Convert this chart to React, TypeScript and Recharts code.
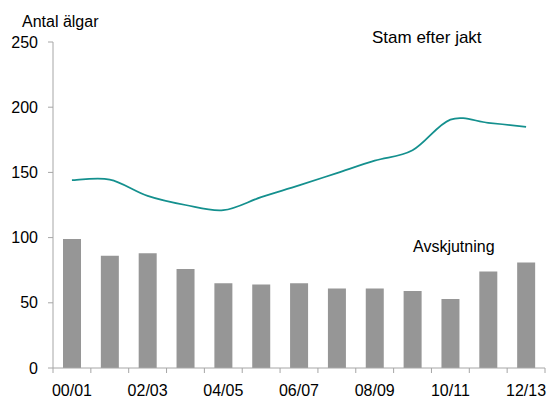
import React from 'react';
import { ComposedChart, Bar, Line, XAxis, YAxis } from 'recharts';

const seasons = ['00/01', '01/02', '02/03', '03/04', '04/05', '05/06', '06/07', '07/08', '08/09', '09/10', '10/11', '11/12', '12/13'];
const avskjutning = [99, 86, 88, 76, 65, 64, 65, 61, 61, 59, 53, 74, 81];
const stamEfterJakt = [144, 144.5, 132, 125, 121, 131, 140, 149.5, 159, 167, 190.5, 188, 185];
const yTicks = [0, 50, 100, 150, 200, 250];

const data = seasons.map((s, i) => ({ season: s, avskjutning: avskjutning[i], stam: stamEfterJakt[i] }));

const FONT = 'Liberation Sans, Arial, sans-serif';
const AXIS = '#a6a6a6';

// Excel-like smoothed line (Catmull-Rom style Bezier)
function excelCurve(context: any) {
  let pts: number[][] = [];
  return {
    areaStart() {},
    areaEnd() {},
    lineStart() {
      pts = [];
    },
    point(x: number, y: number) {
      pts.push([+x, +y]);
    },
    lineEnd() {
      if (!pts.length) return;
      context.moveTo(pts[0][0], pts[0][1]);
      const t = 1 / 6;
      for (let i = 0; i < pts.length - 1; i++) {
        const p0 = pts[i - 1] || pts[i];
        const p1 = pts[i];
        const p2 = pts[i + 1];
        const p3 = pts[i + 2] || p2;
        context.bezierCurveTo(
          p1[0] + (p2[0] - p0[0]) * t,
          p1[1] + (p2[1] - p0[1]) * t,
          p2[0] - (p3[0] - p1[0]) * t,
          p2[1] - (p3[1] - p1[1]) * t,
          p2[0],
          p2[1]
        );
      }
    },
  };
}

// Category tick: tick marks on band boundaries (Excel style), label on every other season
const SeasonTick = (props: any) => {
  const { x, y, payload, index } = props;
  const half = payload && typeof payload.offset === 'number' ? payload.offset : 0;
  const isLast = index === seasons.length - 1;
  return (
    <g>
      <line x1={x - half} x2={x - half} y1={y} y2={y + 5} stroke={AXIS} />
      {isLast && <line x1={x + half} x2={x + half} y1={y} y2={y + 5} stroke={AXIS} />}
      {index % 2 === 0 && (
        <text x={x} y={y + 28} textAnchor="middle" fontSize={16} fontFamily={FONT} fill="#000">
          {payload.value}
        </text>
      )}
    </g>
  );
};

export default function App() {
  return (
    <div style={{ position: 'absolute', left: 0, top: 0, width: 549, height: 401, background: '#fff' }}>
      <ComposedChart width={549} height={401} data={data} margin={{ top: 42, right: 4, bottom: 0, left: 0 }}>
        <XAxis
          dataKey="season"
          interval={0}
          height={33}
          tickLine={false}
          tickSize={0}
          tickMargin={0}
          axisLine={{ stroke: AXIS }}
          tick={<SeasonTick />}
        />
        <YAxis
          width={53}
          domain={[0, 250]}
          ticks={yTicks}
          tickSize={5}
          tickMargin={10}
          axisLine={{ stroke: AXIS }}
          tickLine={{ stroke: AXIS }}
          tick={{ fill: '#000', fontSize: 16, fontFamily: FONT }}
        />
        <Bar dataKey="avskjutning" fill="#969696" barSize={18} isAnimationActive={false} />
        <Line
          dataKey="stam"
          type={excelCurve as any}
          stroke="#14908e"
          strokeWidth={1.75}
          dot={false}
          activeDot={false}
          isAnimationActive={false}
        />
        <text x={22} y={27} fontSize={16} fontFamily={FONT} fill="#000">Antal älgar</text>
        <text x={372} y={43} fontSize={17} fontFamily={FONT} fill="#000">Stam efter jakt</text>
        <text x={413} y={252} fontSize={16} fontFamily={FONT} fill="#000">Avskjutning</text>
      </ComposedChart>
    </div>
  );
}
